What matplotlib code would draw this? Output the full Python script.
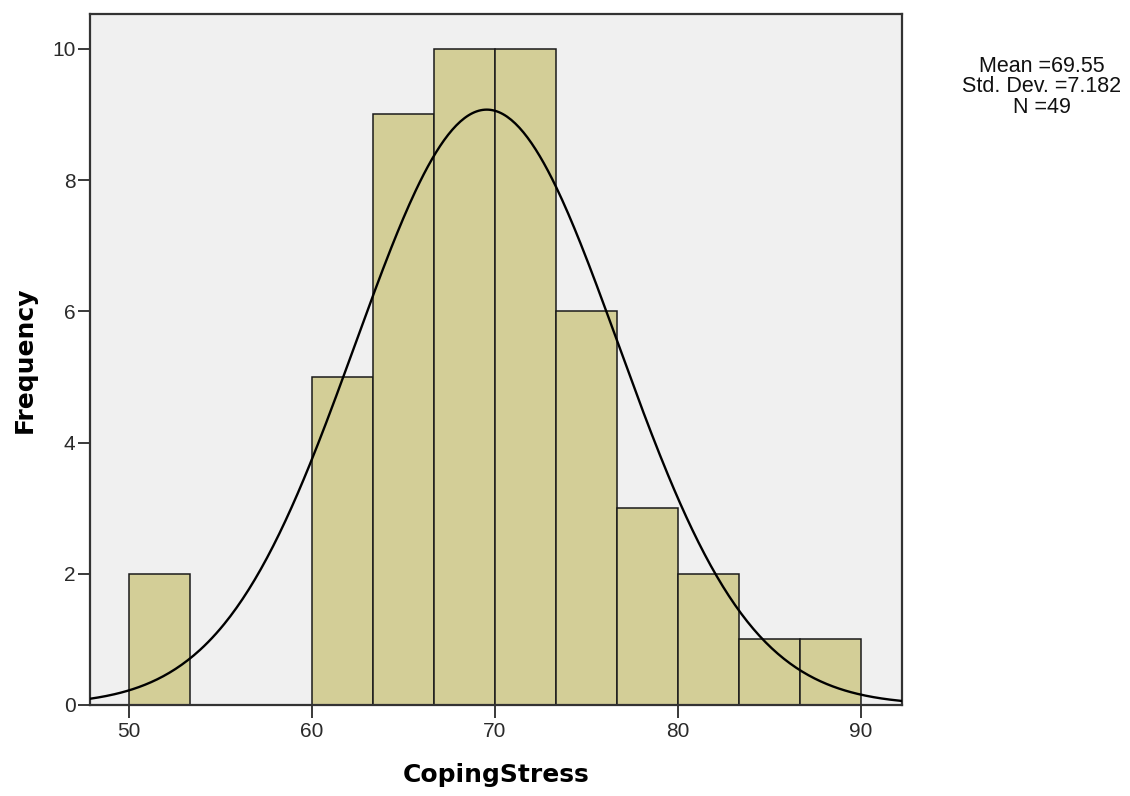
import numpy as np
import matplotlib
matplotlib.use("Agg")
import matplotlib.pyplot as plt

bin_edges = [50, 53.333, 56.667, 60, 63.333, 66.667, 70, 73.333, 76.667, 80, 83.333, 86.667, 90]
counts = [2, 0, 0, 5, 9, 10, 10, 6, 3, 2, 1, 1]
mean_val = 69.55
sd_val = 7.182
n_val = 49
x_ticks = [50, 60, 70, 80, 90]
y_ticks = [0, 2, 4, 6, 8, 10]

plt.rcParams['font.family'] = ['Liberation Sans', 'DejaVu Sans']

fig = plt.figure(figsize=(11.3, 7.96), dpi=100)
ax = fig.add_axes([90/1130, 91/796, 812/1130, 691/796])
ax.set_facecolor('#F0F0F0')

edges = np.array(bin_edges)
widths = np.diff(edges)
ax.bar(edges[:-1], counts, width=widths, align='edge', color='#D3CE97',
       edgecolor='#1a1a1a', linewidth=1.1, zorder=2)

binw = widths.mean()
xs = np.linspace(47.87, 92.24, 400)
ys = n_val * binw / (sd_val * np.sqrt(2 * np.pi)) * np.exp(-0.5 * ((xs - mean_val) / sd_val) ** 2)
ax.plot(xs, ys, color='black', linewidth=1.7, zorder=3)

ax.set_xlim(47.87, 92.24)
ax.set_ylim(0, 10.53)
ax.set_xticks(x_ticks)
ax.set_yticks(y_ticks)
ax.tick_params(axis='both', direction='out', length=9, width=1.3, labelsize=15, colors='#2a2a2a')
ax.tick_params(axis='x', pad=3.5)
ax.tick_params(axis='y', pad=1.5)
for s in ax.spines.values():
    s.set_linewidth(1.6)
    s.set_color('#333333')

ax.set_xlabel('CopingStress', fontsize=18, fontweight='bold', family='DejaVu Sans', va='center')
ax.xaxis.set_label_coords(0.5, -70/691)
ax.set_ylabel('Frequency', fontsize=18, fontweight='bold', family='DejaVu Sans', va='center')
ax.yaxis.set_label_coords(-65/812, 0.5)

fig.text(1042/1130, 1 - 87/796, 'Mean =%.2f\nStd. Dev. =%.3f\nN =%d' % (mean_val, sd_val, n_val),
         ha='center', va='center', fontsize=15.5, linespacing=0.95, color='#111111')

fig.savefig('out.png', dpi=100)
